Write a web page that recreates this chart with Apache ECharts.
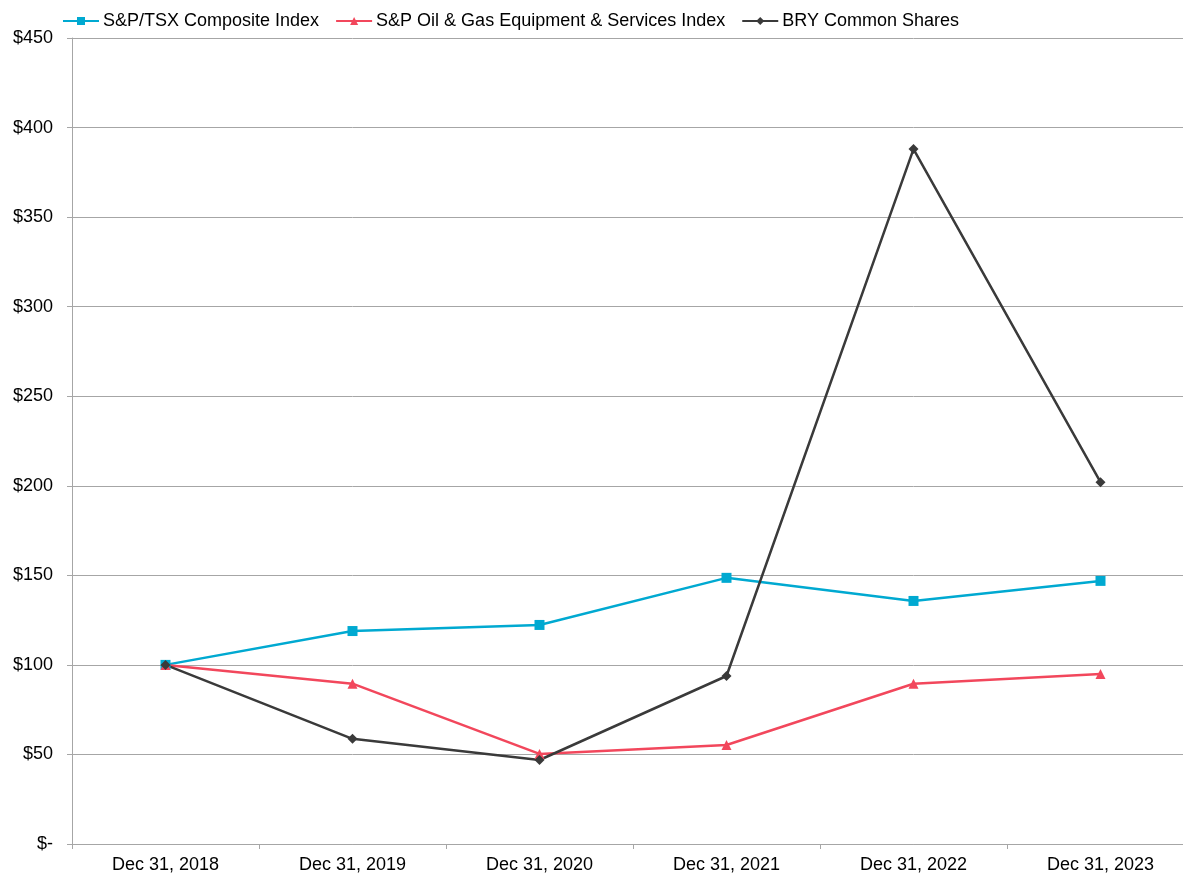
<!DOCTYPE html>
<html>
<head>
<meta charset="utf-8">
<script src="https://cdn.jsdelivr.net/npm/echarts@6/dist/echarts.min.js"></script>
<style>
  html, body { margin: 0; padding: 0; background: #fff; overflow: hidden; }
  #chart { width: 1194px; height: 875px; }
</style>
</head>
<body>
<div id="chart"></div>
<script>
const categories = ['Dec 31, 2018', 'Dec 31, 2019', 'Dec 31, 2020', 'Dec 31, 2021', 'Dec 31, 2022', 'Dec 31, 2023']
const tsxValues = [100, 118.9, 122.3, 148.6, 135.7, 146.9]
const oilGasValues = [100, 89.5, 50.3, 55.3, 89.5, 94.9]
const bryValues = [100, 58.7, 46.9, 93.8, 388, 202]

const chart = echarts.init(document.getElementById('chart'))
const font = 'Liberation Sans, Arial, sans-serif'

function line(name, data, color, symbol, size) {
  return {
    name: name,
    type: 'line',
    data: data,
    symbol: symbol,
    symbolSize: size,
    showAllSymbol: true,
    color: color,
    lineStyle: { color: color, width: 2.5 },
    itemStyle: { color: color },
    emphasis: { disabled: true }
  }
}

chart.setOption({
  animation: false,
  legend: {
    top: 7,
    left: 57,
    itemWidth: 36,
    itemHeight: 10,
    itemGap: 16,
    textStyle: { color: '#000', fontSize: 18, fontFamily: font, padding: [0, 0, 0, -1] },
    data: ['S&P/TSX Composite Index', 'S&P Oil & Gas Equipment & Services Index', 'BRY Common Shares']
  },
  grid: {
    left: 72,
    top: 38,
    right: 0,
    height: 806,
    containLabel: false
  },
  xAxis: {
    type: 'category',
    data: categories,
    boundaryGap: true,
    axisLine: { lineStyle: { color: '#a6a6a6', width: 1 } },
    axisTick: { show: true, length: 5, lineStyle: { color: '#a6a6a6' } },
    axisLabel: { color: '#000', fontSize: 18, fontFamily: font, margin: 12 },
    splitLine: { show: false }
  },
  yAxis: {
    type: 'value',
    min: 0,
    max: 450,
    interval: 50,
    axisLine: { show: true, lineStyle: { color: '#a6a6a6', width: 1 } },
    axisTick: { show: true, length: 5, lineStyle: { color: '#a6a6a6' } },
    axisLabel: {
      color: '#000',
      fontSize: 18,
      fontFamily: font,
      margin: 19,
      formatter: v => v === 0 ? '$-' : '$' + v
    },
    splitLine: { show: true, lineStyle: { color: '#a6a6a6', width: 1 } }
  },
  series: [
    line('S&P/TSX Composite Index', tsxValues, '#00a9d1', 'rect', 10),
    line('S&P Oil & Gas Equipment & Services Index', oilGasValues, '#f2475c', 'triangle', 10),
    line('BRY Common Shares', bryValues, '#3a3a3a', 'diamond', 10)
  ]
})
</script>
</body>
</html>
